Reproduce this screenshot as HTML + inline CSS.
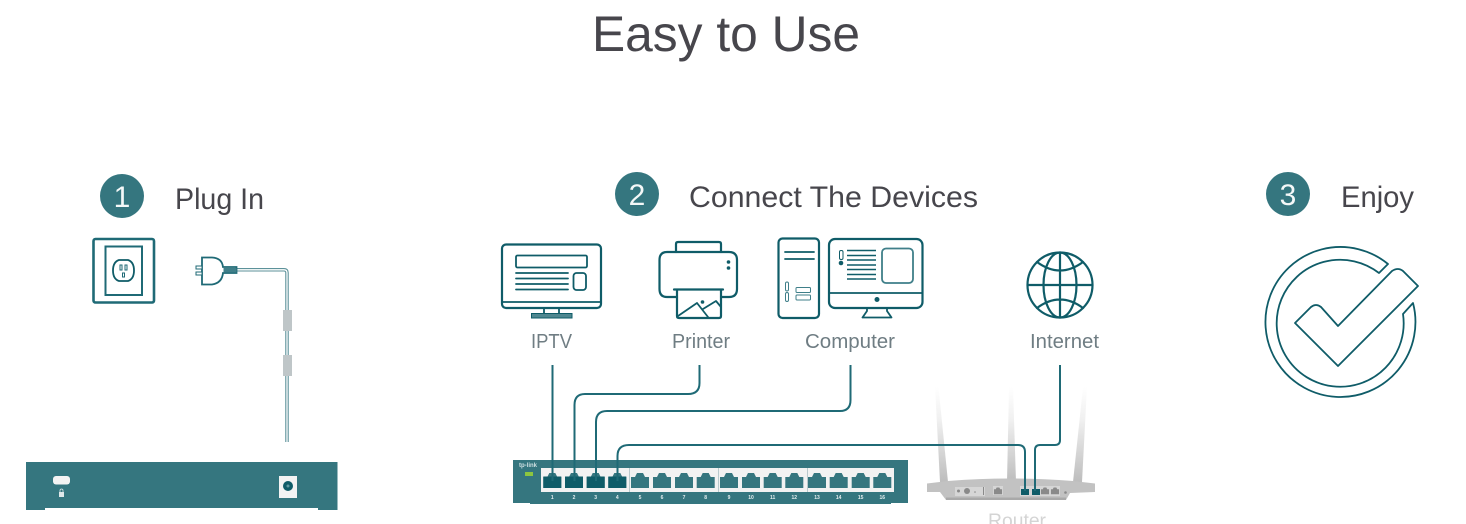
<!DOCTYPE html>
<html><head><meta charset="utf-8"><title>Easy to Use</title>
<style>
html,body{margin:0;padding:0;background:#fff;width:1466px;height:524px;overflow:hidden}
svg{display:block}
text{font-family:"Liberation Sans",sans-serif}
.i{fill:none;stroke:#0f5c68;stroke-width:2.200;stroke-linejoin:round;stroke-linecap:round}
.t{fill:none;stroke:#0f5c68;stroke-width:1.800;stroke-linejoin:round;stroke-linecap:round}
.h{fill:#47464c;font-size:30px}
.n{fill:#f4f8f8;font-size:30px;text-anchor:middle}
.l{fill:#6f7d83;font-size:20px}
.c{fill:none;stroke:#1f6a76;stroke-width:2;stroke-linejoin:round}
.p{fill:#e6eeef;font-size:5px;font-weight:bold;text-anchor:middle}
</style></head><body>
<svg width="1466" height="524" viewBox="0 0 1466 524" xmlns="http://www.w3.org/2000/svg">
<defs>
<linearGradient id="ant" x1="0" y1="0" x2="0" y2="1"><stop offset="0" stop-color="#fff"/><stop offset=".35" stop-color="#f0f0f0"/><stop offset="1" stop-color="#bdbdbd"/></linearGradient>
<path id="port" d="M-9 15V4H-5L-3 0H3L5 4H9V15Z"/>
</defs>

<text x="592" y="51" font-size="50" fill="#47464c" textLength="268" lengthAdjust="spacingAndGlyphs">Easy to Use</text>

<!-- step 1 -->
<circle cx="122" cy="196" r="22" fill="#35767f"/><text class="n" x="122" y="207">1</text>
<text class="h" x="175" y="209" textLength="89" lengthAdjust="spacingAndGlyphs">Plug In</text>
<rect x="93.500" y="239" width="60.500" height="63.500" rx="2" fill="none" stroke="#1f6a76" stroke-width="2.600"/>
<rect x="105.500" y="246.500" width="36.500" height="48.500" fill="none" stroke="#1f6a76" stroke-width="2"/>
<path class="t" d="M119 260H128Q134 262 134 270.500Q134 279 128 281H119Q113 279 113 270.500Q113 262 119 260Z"/>
<path d="M120 265h2v5h-2zM125 265h2v5h-2zM122.500 273h2v4h-2z" fill="none" stroke="#1f6a76" stroke-width="1"/>
<path d="M237 269.800H284Q287 269.800 287 272.800V442" fill="none" stroke="#5d929a" stroke-width="3.500"/>
<path d="M237 269.800H284Q287 269.800 287 272.800V442" fill="none" stroke="#fff" stroke-width="1.300"/>
<path d="M202 257.500H212Q222 258 223 267H236.500V273H223Q222 283 212 284.500H202Z" fill="#fff" stroke="#1f6a76" stroke-width="1.800"/>
<rect x="223.500" y="268" width="13" height="4.500" fill="#3f7f89"/>
<rect x="196" y="266" width="6" height="3" fill="#fff" stroke="#1f6a76"/>
<rect x="196" y="272" width="6" height="3" fill="#fff" stroke="#1f6a76"/>
<rect x="283" y="310" width="9" height="21" fill="#bfc6c8"/>
<rect x="283" y="355" width="9" height="21" fill="#bfc6c8"/>
<path d="M26 462H337.500V510H318V508H45V510H26Z" fill="#35767f"/>
<rect x="53" y="476" width="17" height="8.500" rx="3" fill="#f3f3f3"/>
<rect x="59" y="492" width="5" height="5" fill="#dfe8ea"/><path d="M60 492v-1.500a1.500 1.500 0 0 1 3 0V492" fill="none" stroke="#dfe8ea" stroke-width=".8"/>
<rect x="279" y="476" width="18" height="22" fill="#f3f3f3"/>
<circle cx="288" cy="486" r="5" fill="#0f5c68"/><circle cx="288" cy="486" r="1.500" fill="#5f98a0"/>

<!-- step 2 -->
<circle cx="637" cy="194" r="22" fill="#35767f"/><text class="n" x="637" y="205">2</text>
<text class="h" x="689" y="207" textLength="289" lengthAdjust="spacingAndGlyphs">Connect The Devices</text>

<!-- IPTV -->
<rect class="i" x="502" y="244.500" width="99" height="63.500" rx="4"/>
<path class="t" d="M502 302H601M544 308V313.500M559 308V313.500"/>
<rect x="531.500" y="313.500" width="40.500" height="4.500" fill="#4f8790" stroke="#0f5c68"/>
<rect class="t" x="516" y="255.500" width="71" height="12" rx="1.500"/>
<path class="t" d="M516 273H568M516 278.500H568M516 284H568M516 289.500H568"/>
<rect class="t" x="573.500" y="273" width="12.500" height="17" rx="3"/>
<text class="l" x="531" y="348" textLength="41" lengthAdjust="spacingAndGlyphs">IPTV</text>

<!-- Printer -->
<path class="i" d="M676 252V244Q676 242 678 242H719Q721 242 721 244V252"/>
<path class="i" d="M677 297H667Q659.500 297 659.500 289V260Q659.500 252 667 252H729Q737 252 737 260V289Q737 297 729 297H721"/>
<path class="i" d="M674 289.500H723M677 289.500V316Q677 318 679 318H719Q721 318 721 316V289.500"/>
<path class="t" d="M678 316L697 303L708 317M703 309L716 301L721 307"/>
<circle cx="702.500" cy="302" r="1.800" fill="#0f5c68"/>
<circle cx="728.500" cy="262" r="1.800" fill="#0f5c68"/><circle cx="728.500" cy="268" r="1.800" fill="#0f5c68"/>
<text class="l" x="672" y="348" textLength="58" lengthAdjust="spacingAndGlyphs">Printer</text>

<!-- Computer -->
<rect class="i" x="778.500" y="238.500" width="40.500" height="79.500" rx="4"/>
<path class="t" d="M785 252H814M785 259H814"/>
<rect x="785.500" y="282" width="3" height="9" rx="1.500" fill="none" stroke="#3f7f89"/>
<rect x="785.500" y="292.500" width="3" height="9" rx="1.500" fill="none" stroke="#3f7f89"/>
<rect x="796" y="287.500" width="14.500" height="5" rx="1" fill="none" stroke="#3f7f89"/>
<rect x="796" y="295" width="14.500" height="5" rx="1" fill="none" stroke="#3f7f89"/>
<rect class="i" x="829" y="239" width="93.500" height="69" rx="6"/>
<path class="t" d="M829 293H922.500"/>
<circle cx="877" cy="299.500" r="2.500" fill="#0f5c68"/>
<path class="t" d="M867 308V311L862.500 317.500H891.500L887 311V308"/>
<path d="M847 250.500H876M847 255.500H876M847 260H876M847 265H876M847 269.500H876M847 274.500H876M847 279H876" stroke="#0f5c68" stroke-width="1.500"/>
<rect x="839.500" y="250.500" width="3.500" height="9" rx="1.500" fill="none" stroke="#0f5c68"/>
<circle cx="841" cy="263" r="2.300" fill="#0f5c68"/>
<rect x="882" y="248.500" width="31" height="34.500" rx="4" fill="none" stroke="#3f7f89" stroke-width="1.800"/>
<text class="l" x="805" y="348" textLength="90" lengthAdjust="spacingAndGlyphs">Computer</text>

<!-- Internet -->
<g class="i">
<circle cx="1060" cy="285" r="32.500"/>
<ellipse cx="1060" cy="285" rx="16.500" ry="32.500"/>
<path d="M1060 252.500V317.500M1027.500 285H1092.500M1037 262Q1060 279 1083 262M1037 308Q1060 291 1083 308"/>
</g>
<text class="l" x="1030" y="348" textLength="69" lengthAdjust="spacingAndGlyphs">Internet</text>

<!-- Router -->
<path d="M935 387L938.500 387L948 482H940Z" fill="url(#ant)"/>
<path d="M1009 387H1013L1016 482H1007Z" fill="url(#ant)"/>
<path d="M1083 387H1087L1082 482H1073Z" fill="url(#ant)"/>
<path d="M927 483.500L948 481Q1010 476 1073 481L1095 483.500V492L1070 493L1066 500H946L940 492H927Z" fill="#c2c2c2"/>
<rect x="946" y="497.500" width="120" height="2.500" fill="#a9a9a9"/>
<rect x="955" y="487" width="30" height="9" fill="#d6d6d6"/>
<circle cx="958.500" cy="491" r="1.500" fill="#8a8a8a"/><circle cx="967" cy="491" r="3" fill="#8a8a8a"/><circle cx="975" cy="492" r=".8" fill="#8a8a8a"/>
<rect x="983" y="487" width="1" height="8" fill="#8a8a8a"/>
<rect x="993" y="486" width="10" height="9" fill="#d6d6d6"/>
<use href="#port" transform="translate(998 487.500) scale(.45)" fill="#8a8a8a"/>
<rect x="1020" y="486" width="40" height="10" fill="#d6d6d6"/>
<use href="#port" transform="translate(1045 487.500) scale(.45)" fill="#8a8a8a"/>
<use href="#port" transform="translate(1055 487.500) scale(.45)" fill="#8a8a8a"/>
<rect x="1021" y="489" width="8" height="6" fill="#0f5c68"/>
<rect x="1032" y="489" width="8" height="6" fill="#0f5c68"/>
<circle cx="1065.500" cy="492.500" r="1.300" fill="#8a8a8a"/>
<text x="988" y="527" font-size="19" fill="#d4d4d4" textLength="58" lengthAdjust="spacingAndGlyphs">Router</text>

<!-- Switch -->
<path d="M513 460H908V503H891V504H530V503H513Z" fill="#35767f"/>
<rect x="541" y="468" width="353" height="24" fill="#f2f2f2"/>
<path d="M629.500 468V492M718.500 468V492M807.500 468V492" stroke="#b9c9cc" stroke-width="1"/>
<rect x="525" y="472" width="8" height="4" fill="#8cc63f"/>
<text x="519" y="467" font-size="6" font-weight="bold" fill="#cfe0e2" textLength="18" lengthAdjust="spacingAndGlyphs">tp-link</text>
<g fill="#35767f">
<use href="#port" x="640" y="473"/><use href="#port" x="662" y="473"/><use href="#port" x="684" y="473"/><use href="#port" x="705.700" y="473"/>
<use href="#port" x="729" y="473"/><use href="#port" x="751" y="473"/><use href="#port" x="772.700" y="473"/><use href="#port" x="794.300" y="473"/>
<use href="#port" x="817" y="473"/><use href="#port" x="838.700" y="473"/><use href="#port" x="860.700" y="473"/><use href="#port" x="882.300" y="473"/>
</g>
<g fill="#35767f">
<use href="#port" x="552.300" y="473"/><use href="#port" x="574" y="473"/><use href="#port" x="595.700" y="473"/><use href="#port" x="617.300" y="473"/>
</g>
<g fill="#0f5c68">
<rect x="543.300" y="476.500" width="18" height="11.500"/><rect x="565" y="476.500" width="18" height="11.500"/><rect x="586.700" y="476.500" width="18" height="11.500"/><rect x="608.300" y="476.500" width="18" height="11.500"/>
</g>
<text class="p" x="552.300" y="499">1</text><text class="p" x="574" y="499">2</text><text class="p" x="595.700" y="499">3</text><text class="p" x="617.300" y="499">4</text>
<text class="p" x="640" y="499">5</text><text class="p" x="662" y="499">6</text><text class="p" x="684" y="499">7</text><text class="p" x="705.700" y="499">8</text>
<text class="p" x="729" y="499">9</text><text class="p" x="751" y="499">10</text><text class="p" x="772.700" y="499">11</text><text class="p" x="794.300" y="499">12</text>
<text class="p" x="817" y="499">13</text><text class="p" x="838.700" y="499">14</text><text class="p" x="860.700" y="499">15</text><text class="p" x="882.300" y="499">16</text>

<!-- Cables -->
<path class="c" d="M552.500 365V481"/>
<path class="c" d="M699.500 365V383Q699.500 394 688 394H585Q574.500 394 574.500 405V481"/>
<path class="c" d="M850.500 365V400Q850.500 411 840 411H607Q596 411 596 422V481"/>
<path class="c" d="M617.500 481V456Q617.500 445 629 445H1018Q1025 445 1025 452V491"/>
<path class="c" d="M1060 365V440Q1060 445 1055 445H1040Q1035 445 1035 450V491"/>

<!-- step 3 -->
<circle cx="1288" cy="194" r="22" fill="#35767f"/><text class="n" x="1288" y="205">3</text>
<text class="h" x="1341" y="207" textLength="73" lengthAdjust="spacingAndGlyphs">Enjoy</text>
<path class="t" d="M1388 264A75 75 0 1 0 1413 303L1403 314A63.500 63.500 0 1 1 1379 273Z"/>
<path class="t" d="M1295 323L1311 307Q1316 303 1321 307L1338 326L1392 271Q1398 267 1403 271L1418 286L1338 366Z"/>
</svg>
</body></html>
